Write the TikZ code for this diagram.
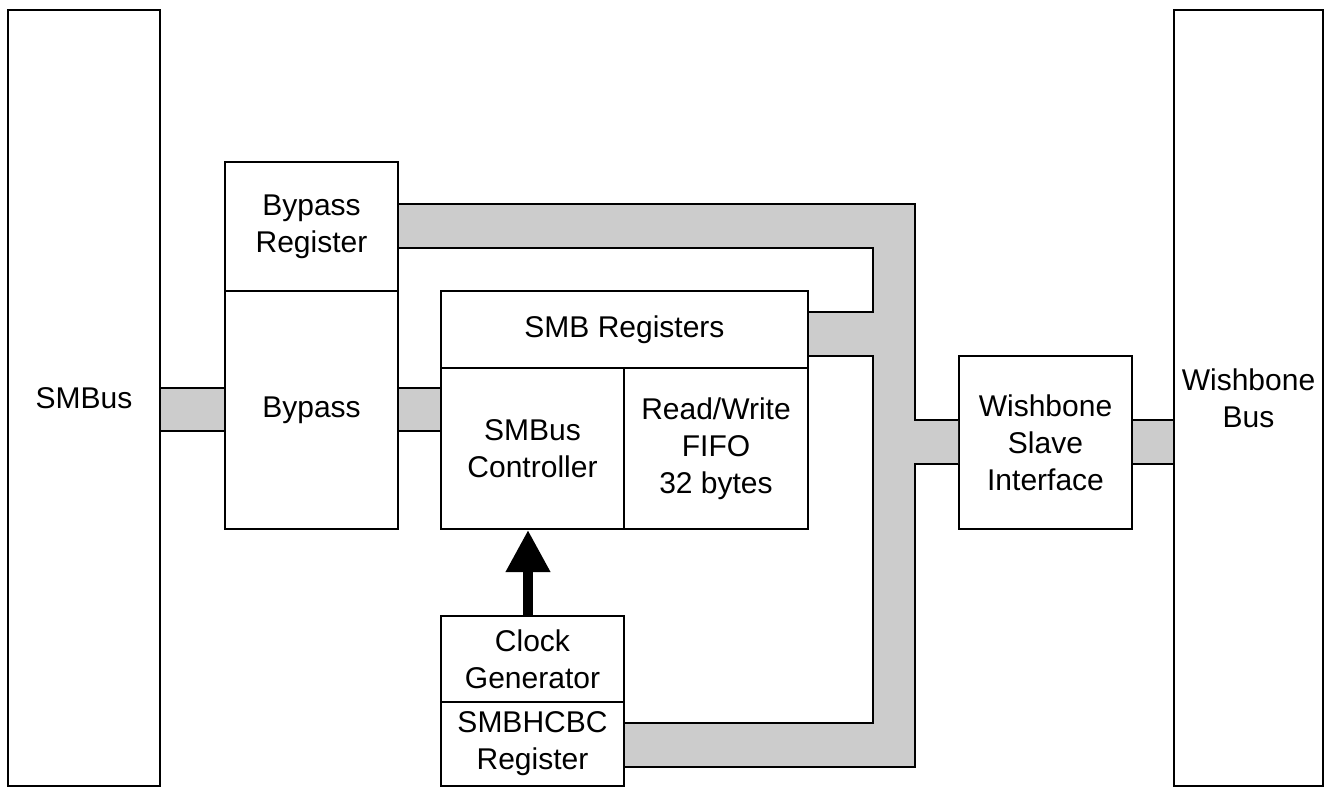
\documentclass[tikz,border=0pt]{standalone}
\usepackage{fontspec}
\setmainfont{Liberation Sans}
\usetikzlibrary{arrows.meta,calc}
\newcommand\lblfont{\fontsize{30}{37}\selectfont}
\definecolor{busgray}{HTML}{CCCCCC}
\begin{document}
\begin{tikzpicture}[x=1pt,y=-1pt,
  box/.style={draw=black, line width=2pt, rectangle, inner sep=0pt, align=center, font=\lblfont, fill=white},
  wire/.style={draw=black, line width=2pt, line join=miter},
  busfill/.style={fill=busgray, draw=none}]
\useasboundingbox (0,0) rectangle (1326,788);
% level coordinates
\coordinate (yA) at (0,204);
\coordinate (yB) at (0,248);
\coordinate (yC) at (0,312);
\coordinate (yD) at (0,356);
\coordinate (yE) at (0,420);
\coordinate (yF) at (0,464);
\coordinate (yG) at (0,723);
\coordinate (yH) at (0,767);
\coordinate (yI) at (0,388);
\coordinate (yJ) at (0,431);
\coordinate (xO) at (915,0);
\coordinate (xN) at (873,0);
% nodes
\node[box, minimum width=152pt, minimum height=776pt] (smbus) at (84,398) {SMBus};
\node[box, minimum width=149pt, minimum height=776pt] (wbbus) at (1248.5,398) {Wishbone\\Bus};
\node[box, minimum width=173pt, minimum height=129pt] (bypreg) at (311.5,226.5) {Bypass\\Register};
\node[box, minimum width=173pt, minimum height=238pt] (bypass) at (311.5,410) {Bypass};
\node[box, minimum width=367pt, minimum height=77pt] (smbreg) at (624.5,329.5) {SMB Registers};
\node[box, minimum width=183pt, minimum height=161pt] (ctrl) at (532.5,448.5) {SMBus\\Controller};
\node[box, minimum width=184pt, minimum height=161pt] (fifo) at (716,448.5) {Read/Write\\FIFO\\32 bytes};
\node[box, minimum width=183pt, minimum height=86pt] (clock) at (532.5,659) {Clock\\Generator};
\node[box, minimum width=183pt, minimum height=84pt] (hcbc) at (532.5,744) {SMBHCBC\\Register};
\node[box, minimum width=173pt, minimum height=173pt] (wbsi) at (1045.5,442.5) {Wishbone\\Slave\\Interface};
% simple buses
\fill[busgray] (smbus.east |- yI) rectangle (bypass.west |- yJ);
\draw[wire] (smbus.east |- yI) -- (bypass.west |- yI);
\draw[wire] (smbus.east |- yJ) -- (bypass.west |- yJ);
\fill[busgray] (bypass.east |- yI) rectangle (ctrl.west |- yJ);
\draw[wire] (bypass.east |- yI) -- (ctrl.west |- yI);
\draw[wire] (bypass.east |- yJ) -- (ctrl.west |- yJ);
\fill[busgray] (wbsi.east |- yE) rectangle (wbbus.west |- yF);
\draw[wire] (wbsi.east |- yE) -- (wbbus.west |- yE);
\draw[wire] (wbsi.east |- yF) -- (wbbus.west |- yF);
% main bus
\fill[busgray] (bypreg.east |- yA) -- (xO |- yA) -- (xO |- yE) -- (wbsi.west |- yE)
  -- (wbsi.west |- yF) -- (xO |- yF) -- (xO |- yH) -- (hcbc.east |- yH)
  -- (hcbc.east |- yG) -- (xN |- yG) -- (xN |- yD) -- (smbreg.east |- yD)
  -- (smbreg.east |- yC) -- (xN |- yC) -- (xN |- yB) -- (bypreg.east |- yB) -- cycle;
\draw[wire] (bypreg.east |- yA) -- (xO |- yA) -- (xO |- yE) -- (wbsi.west |- yE);
\draw[wire] (wbsi.west |- yF) -- (xO |- yF) -- (xO |- yH) -- (hcbc.east |- yH);
\draw[wire] (hcbc.east |- yG) -- (xN |- yG) -- (xN |- yD) -- (smbreg.east |- yD);
\draw[wire] (smbreg.east |- yC) -- (xN |- yC) -- (xN |- yB) -- (bypreg.east |- yB);
% clock arrow
\draw[line width=10pt, -{Triangle[width=42pt,length=42pt]}] ($(clock.north)+(-4.5,0)$) -- ($(ctrl.south)+(-4.5,0)$);
\end{tikzpicture}
\end{document}
